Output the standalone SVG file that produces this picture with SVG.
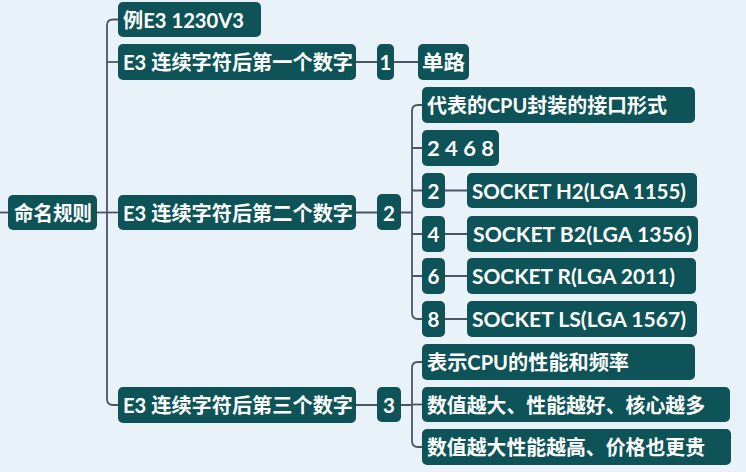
<svg xmlns="http://www.w3.org/2000/svg" width="746" height="472" viewBox="0 0 746 472">
<style>
.n{fill:#0d5358;}
.t{fill:#ffffff;font-family:"Lato","Noto Sans CJK SC",sans-serif;font-weight:700;font-size:20.5px;dominant-baseline:central;}
.c{fill:none;stroke:#4d5562;stroke-width:1.8;}
</style>
<rect width="746" height="472" fill="#eaf2f9"/>
<g id="connectors">
<path class="c" d="M0 212.5H8"/>
<path class="c" d="M97 212.5H118"/>
<path class="c" d="M118 19.5H113Q107 19.5 107 25.5V399Q107 405 113 405H118"/>
<path class="c" d="M107 62H118"/>
<path class="c" d="M356 62H418"/>
<path class="c" d="M356 212.5H412"/>
<path class="c" d="M422 105H418Q412 105 412 111V313Q412 319 418 319H422"/>
<path class="c" d="M412 148H422M412 190.5H422M412 234H422M412 276H422"/>
<path class="c" d="M445 190.5H467M445 234H467M445 276H467M445 319H467"/>
<path class="c" d="M356 405H412"/>
<path class="c" d="M422 362H418Q412 362 412 368V441Q412 447 418 447H422"/>
<path class="c" d="M412 404.5H422"/>
</g>
<g id="root"><rect class="n" x="8" y="195" width="89" height="35" rx="5"/><text class="t" x="14" y="212.5" textLength="78" lengthAdjust="spacingAndGlyphs">命名规则</text></g>
<g id="example"><rect class="n" x="118" y="2" width="143" height="35" rx="5"/><text class="t" x="123" y="19.5" textLength="121" lengthAdjust="spacingAndGlyphs">例E3 1230V3</text></g>
<g id="first"><rect class="n" x="118" y="44" width="238" height="36" rx="5"/><text class="t" x="123" y="62" textLength="230" lengthAdjust="spacingAndGlyphs">E3 连续字符后第一个数字</text></g>
<g id="second"><rect class="n" x="118" y="195" width="238" height="35" rx="5"/><text class="t" x="123" y="212.5" textLength="230" lengthAdjust="spacingAndGlyphs">E3 连续字符后第二个数字</text></g>
<g id="third"><rect class="n" x="118" y="387" width="238" height="36" rx="5"/><text class="t" x="123" y="405" textLength="230" lengthAdjust="spacingAndGlyphs">E3 连续字符后第三个数字</text></g>
<g id="n1"><rect class="n" x="377" y="44" width="17" height="36" rx="5"/><text class="t" x="385.5" y="62" text-anchor="middle">1</text></g>
<g id="single"><rect class="n" x="418" y="44" width="51" height="36" rx="5"/><text class="t" x="422" y="62" textLength="43" lengthAdjust="spacingAndGlyphs">单路</text></g>
<g id="n2"><rect class="n" x="377" y="194" width="24" height="36" rx="5"/><text class="t" x="389" y="212.5" text-anchor="middle">2</text></g>
<g id="n3"><rect class="n" x="377" y="387" width="24" height="35" rx="5"/><text class="t" x="389" y="404.5" text-anchor="middle">3</text></g>
<g id="pkg"><rect class="n" x="422" y="87" width="273" height="36" rx="5"/><text class="t" x="427" y="105" textLength="240" lengthAdjust="spacingAndGlyphs">代表的CPU封装的接口形式</text></g>
<g id="list"><rect class="n" x="422" y="130" width="77" height="36" rx="5"/><text class="t" x="427" y="148" textLength="67" lengthAdjust="spacingAndGlyphs">2 4 6 8</text></g>
<g id="s2"><rect class="n" x="422" y="173" width="23" height="35" rx="5"/><text class="t" x="433.5" y="190.5" text-anchor="middle">2</text></g>
<g id="h2"><rect class="n" x="467" y="173" width="230" height="35" rx="5"/><text class="t" x="472" y="190.5" textLength="214" lengthAdjust="spacingAndGlyphs">SOCKET H2(LGA 1155)</text></g>
<g id="s4"><rect class="n" x="422" y="216" width="23" height="36" rx="5"/><text class="t" x="433.5" y="234" text-anchor="middle">4</text></g>
<g id="b2"><rect class="n" x="467" y="216" width="231" height="36" rx="5"/><text class="t" x="473" y="234" textLength="219" lengthAdjust="spacingAndGlyphs">SOCKET B2(LGA 1356)</text></g>
<g id="s6"><rect class="n" x="422" y="258" width="23" height="36" rx="5"/><text class="t" x="433.5" y="276" text-anchor="middle">6</text></g>
<g id="r"><rect class="n" x="467" y="258" width="229" height="36" rx="5"/><text class="t" x="472" y="276" textLength="203" lengthAdjust="spacingAndGlyphs">SOCKET R(LGA 2011)</text></g>
<g id="s8"><rect class="n" x="422" y="301" width="23" height="36" rx="5"/><text class="t" x="433.5" y="319" text-anchor="middle">8</text></g>
<g id="ls"><rect class="n" x="467" y="301" width="230" height="36" rx="5"/><text class="t" x="472" y="319" textLength="214" lengthAdjust="spacingAndGlyphs">SOCKET LS(LGA 1567)</text></g>
<g id="perf"><rect class="n" x="422" y="344" width="273" height="36" rx="5"/><text class="t" x="427" y="362" textLength="202" lengthAdjust="spacingAndGlyphs">表示CPU的性能和频率</text></g>
<g id="bigger"><rect class="n" x="422" y="387" width="308" height="35" rx="5"/><text class="t" x="427" y="404.5" textLength="278" lengthAdjust="spacingAndGlyphs">数值越大、性能越好、核心越多</text></g>
<g id="price"><rect class="n" x="422" y="429" width="309" height="36" rx="5"/><text class="t" x="427" y="447" textLength="278" lengthAdjust="spacingAndGlyphs">数值越大性能越高、价格也更贵</text></g>
</svg>
